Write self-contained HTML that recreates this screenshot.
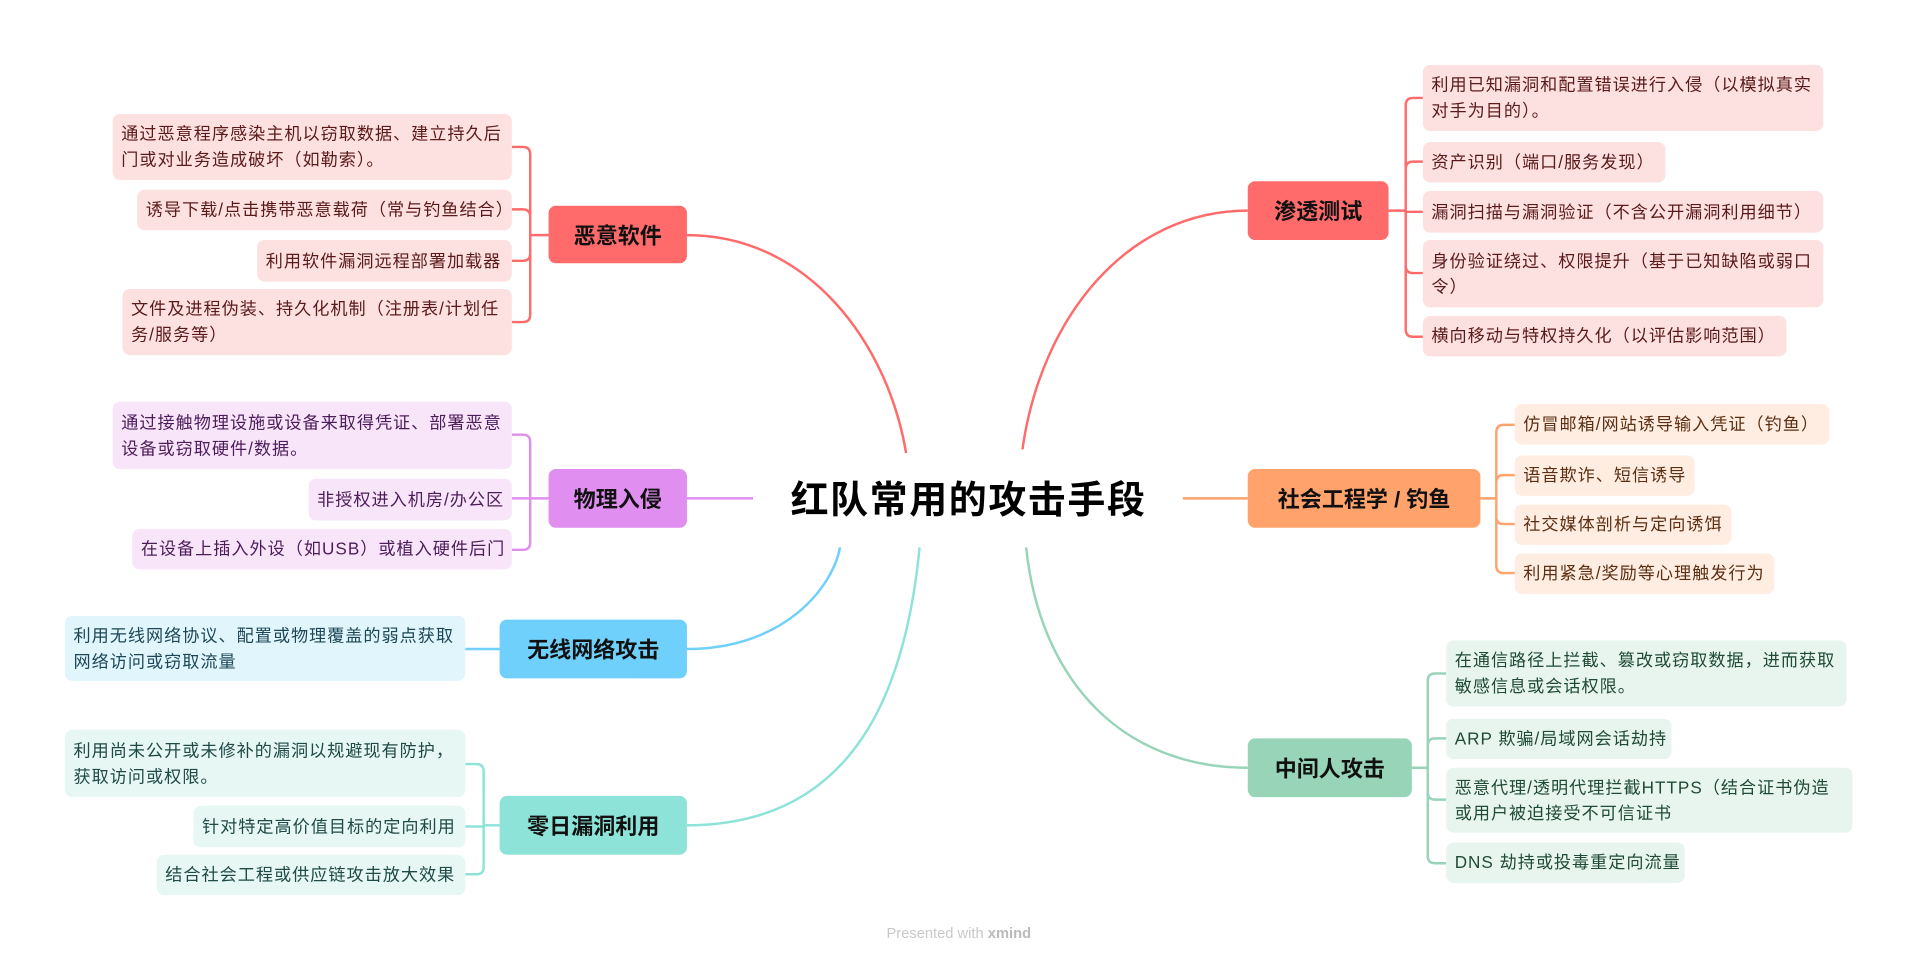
<!DOCTYPE html>
<html><head><meta charset="utf-8"><style>
html,body{margin:0;padding:0;background:#fff;width:1920px;height:963px;overflow:hidden}
#w{position:absolute;left:0;top:0;width:1568px;height:786px;transform:scale(1.22449);transform-origin:0 0;font-family:"Liberation Sans","Noto Sans CJK SC",sans-serif}
.n{position:absolute;border-radius:6px;display:flex;align-items:center;justify-content:center;font-weight:bold;font-size:18px;color:#111}
.l{position:absolute;border-radius:6px;box-sizing:border-box;padding:0 6px 0 7px;display:flex;align-items:center;font-size:14px;line-height:21px;letter-spacing:0.8px}
.s{white-space:nowrap;overflow:visible}
.r{background:#fde1e1;color:#5b1a1a}.p{background:#f8e5fa;color:#4d1d5a}.b{background:#e1f5fd;color:#1d4756}.t{background:#e6f7f4;color:#1f4a45}.o{background:#ffede2;color:#5c2f12}.g{background:#e8f5ee;color:#1f4a36}
svg{position:absolute;left:0;top:0}
</style></head><body><div id="w">
<svg width="1568" height="786" fill="none" stroke-width="2">
<g stroke="#ff6b6b">
<path d="M561,192 C660,192 725,280 740,370"/>
<path d="M448,192 H433 M433,192 V126 Q433,120 427,120 H418 M433,192 V177 Q433,171 427,171 H418 M433,192 V207 Q433,213 427,213 H418 M433,192 V257 Q433,263 427,263 H418"/>
<path d="M835,367 C850,260 920,172 1019,172"/>
<path d="M1134,172 H1148 M1148,172 V86 Q1148,80 1154,80 H1162 M1148,172 V138 Q1148,132 1154,132 H1162 M1148,172 V173 H1162 M1148,172 V217 Q1148,223 1154,223 H1162 M1148,172 V269 Q1148,275 1154,275 H1162"/>
</g>
<g stroke="#e08ef0">
<path d="M561,407 H615"/>
<path d="M448,407 H418 M433,407 V361 Q433,355 427,355 H418 M433,407 V443 Q433,449 427,449 H418"/>
</g>
<g stroke="#6fd0fb"><path d="M561,530 C640,530 680,480 686,447"/><path d="M408,530 H380"/></g>
<g stroke="#8de3d8"><path d="M561,674 C700,674 740,560 751,447"/>
<path d="M408,674 H395 M395,674 V630 Q395,624 389,624 H380 M395,674 V675 H380 M395,674 V708 Q395,714 389,714 H380"/></g>
<g stroke="#ffa26b"><path d="M966,407 H1019"/>
<path d="M1209,407 H1222 M1222,407 V353 Q1222,347 1228,347 H1237 M1222,407 V394 Q1222,388 1228,388 H1237 M1222,407 V422 Q1222,428 1228,428 H1237 M1222,407 V462 Q1222,468 1228,468 H1237"/></g>
<g stroke="#97d4b8"><path d="M838,447 C850,560 920,627 1019,627"/>
<path d="M1153,627 H1166 M1166,627 V556 Q1166,550 1172,550 H1181 M1166,627 V609 Q1166,603 1172,603 H1181 M1166,627 V647 Q1166,653 1172,653 H1181 M1166,627 V699 Q1166,705 1172,705 H1181"/></g>
</svg>
<div style="position:absolute;left:600px;top:389px;width:382px;text-align:center;font-size:31px;font-weight:bold;color:#000;line-height:40px;letter-spacing:1.3px">红队常用的攻击手段</div>

<div class="n" style="left:448px;top:168px;width:113px;height:47px;background:#ff6b6b">恶意软件</div>
<div class="l r" style="left:92px;top:93px;width:326px;height:54px">通过恶意程序感染主机以窃取数据、建立持久后门或对业务造成破坏（如勒索）。</div>
<div class="l r s" style="left:112px;top:155px;width:306px;height:33px">诱导下载/点击携带恶意载荷（常与钓鱼结合）</div>
<div class="l r s" style="left:210px;top:196px;width:208px;height:34px">利用软件漏洞远程部署加载器</div>
<div class="l r" style="left:100px;top:236px;width:318px;height:54px">文件及进程伪装、持久化机制（注册表/计划任务/服务等）</div>

<div class="n" style="left:448px;top:383px;width:113px;height:48px;background:#e08ef0">物理入侵</div>
<div class="l p" style="left:92px;top:328px;width:326px;height:55px">通过接触物理设施或设备来取得凭证、部署恶意设备或窃取硬件/数据。</div>
<div class="l p s" style="left:252px;top:391px;width:166px;height:34px">非授权进入机房/办公区</div>
<div class="l p s" style="left:108px;top:432px;width:310px;height:33px">在设备上插入外设（如USB）或植入硬件后门</div>

<div class="n" style="left:408px;top:506px;width:153px;height:48px;background:#6fd0fb">无线网络攻击</div>
<div class="l b" style="left:53px;top:503px;width:327px;height:53px">利用无线网络协议、配置或物理覆盖的弱点获取网络访问或窃取流量</div>

<div class="n" style="left:408px;top:650px;width:153px;height:48px;background:#8de3d8">零日漏洞利用</div>
<div class="l t" style="left:53px;top:596px;width:327px;height:55px">利用尚未公开或未修补的漏洞以规避现有防护，获取访问或权限。</div>
<div class="l t s" style="left:158px;top:658px;width:222px;height:34px">针对特定高价值目标的定向利用</div>
<div class="l t s" style="left:128px;top:698px;width:252px;height:33px">结合社会工程或供应链攻击放大效果</div>

<div class="n" style="left:1019px;top:148px;width:115px;height:48px;background:#ff6b6b">渗透测试</div>
<div class="l r" style="left:1162px;top:53px;width:327px;height:54px">利用已知漏洞和配置错误进行入侵（以模拟真实对手为目的）。</div>
<div class="l r s" style="left:1162px;top:116px;width:198px;height:33px">资产识别（端口/服务发现）</div>
<div class="l r s" style="left:1162px;top:156px;width:327px;height:34px">漏洞扫描与漏洞验证（不含公开漏洞利用细节）</div>
<div class="l r" style="left:1162px;top:196px;width:327px;height:55px">身份验证绕过、权限提升（基于已知缺陷或弱口令）</div>
<div class="l r s" style="left:1162px;top:258px;width:297px;height:33px">横向移动与特权持久化（以评估影响范围）</div>

<div class="n" style="left:1019px;top:383px;width:190px;height:48px;background:#ffa26b">社会工程学 / 钓鱼</div>
<div class="l o s" style="left:1237px;top:330px;width:257px;height:33px">仿冒邮箱/网站诱导输入凭证（钓鱼）</div>
<div class="l o s" style="left:1237px;top:372px;width:147px;height:33px">语音欺诈、短信诱导</div>
<div class="l o s" style="left:1237px;top:412px;width:177px;height:33px">社交媒体剖析与定向诱饵</div>
<div class="l o s" style="left:1237px;top:452px;width:212px;height:33px">利用紧急/奖励等心理触发行为</div>

<div class="n" style="left:1019px;top:603px;width:134px;height:48px;background:#97d4b8">中间人攻击</div>
<div class="l g" style="left:1181px;top:523px;width:327px;height:54px">在通信路径上拦截、篡改或窃取数据，进而获取敏感信息或会话权限。</div>
<div class="l g s" style="left:1181px;top:587px;width:184px;height:33px">ARP 欺骗/局域网会话劫持</div>
<div class="l g" style="left:1181px;top:627px;width:332px;height:53px">恶意代理/透明代理拦截HTTPS（结合证书伪造或用户被迫接受不可信证书</div>
<div class="l g s" style="left:1181px;top:688px;width:195px;height:33px">DNS 劫持或投毒重定向流量</div>

<div style="position:absolute;left:683px;top:755px;width:200px;text-align:center;font-size:12px;color:#c8c8c8">Presented with <b style="color:#bbb">xmind</b></div>
</div></body></html>
